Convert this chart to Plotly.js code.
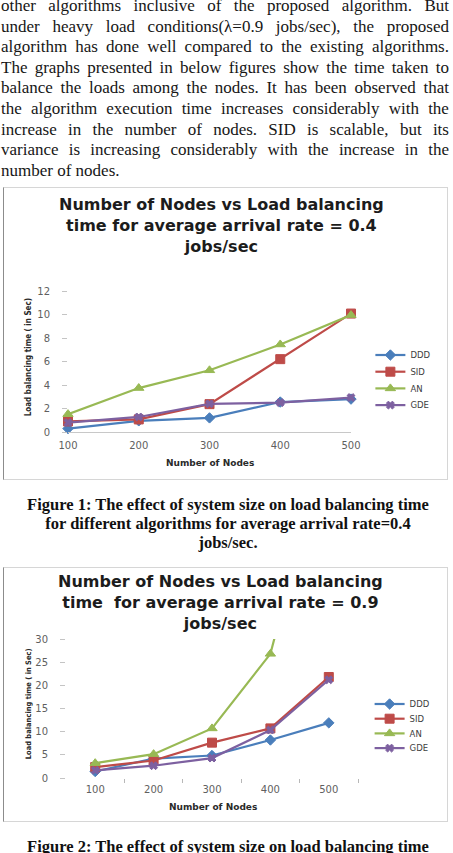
<!DOCTYPE html>
<html>
<head>
<meta charset="utf-8">
<script src="https://cdn.plot.ly/plotly-3.0.1.min.js"></script>
<style>
  html, body { margin: 0; padding: 0; background: #fff; }
  body { position: relative; width: 453px; height: 853px; overflow: hidden; }
  #para { position: absolute; left: 1px; top: -4px; width: 448px;
          font-family: "Liberation Serif", "Times New Roman", serif; font-size: 17px;
          line-height: 20.6px; color: #161616; }
  #para .ln { display: flex; justify-content: space-between; white-space: nowrap; height: 20.6px; }
  #para .ln.last { display: block; }
  .cap { position: absolute; left: 4px; width: 448px; text-align: center;
         font-family: "Liberation Serif", "Times New Roman", serif; font-weight: bold;
         font-size: 16.5px; line-height: 19px; color: #111; white-space: nowrap; }
  .frame { position: absolute; box-sizing: border-box; border: 1px solid #d6d6d6;
           border-left-color: #8c8c8c; pointer-events: none; z-index: 2; }
  .plot { position: absolute; }
</style>
</head>
<body>
<div id="para"></div>

<div class="plot" id="chart04"></div>
<div class="frame" id="frame04"></div>
<div class="cap" id="cap04"></div>

<div class="plot" id="chart09"></div>
<div class="frame" id="frame09"></div>
<div class="cap" id="cap09"></div>

<script>
// ---- data -------------------------------------------------------------
const nodes = [100, 200, 300, 400, 500];
const algorithms = ['DDD', 'SID', 'AN', 'GDE'];

// load balancing time (sec), average arrival rate 0.4 jobs/sec
const ddd04 = [0.29, 0.95, 1.2, 2.55, 2.8];
const sid04 = [0.9, 1.07, 2.37, 6.2, 10.08];
const an04  = [1.52, 3.74, 5.25, 7.45, 9.95];
const gde04 = [0.8, 1.28, 2.4, 2.5, 2.93];

// load balancing time (sec), average arrival rate 0.9 jobs/sec
const ddd09 = [1.4, 4.2, 4.85, 8.2, 11.9];
const sid09 = [2.36, 3.77, 7.63, 10.7, 21.8];
const an09  = [3.2, 5.15, 10.7, 26.8, 75];
const gde09 = [1.65, 2.65, 4.3, 10.35, 21.2];

const yTicks04 = [0, 2, 4, 6, 8, 10, 12];
const yTicks09 = [0, 5, 10, 15, 20, 25, 30];

const title04 = ['Number of Nodes vs Load balancing', 'time for average arrival rate = 0.4', 'jobs/sec'];
const title09 = ['Number of Nodes vs Load balancing', 'time\u00a0 for average arrival rate = 0.9', 'jobs/sec'];
const xTitle = 'Number of Nodes';
const yTitle = 'Load balancing time ( in Sec)';

const paragraphLines = [
  'other algorithms inclusive of the proposed algorithm. But',
  'under heavy load conditions(\u03bb=0.9 jobs/sec), the proposed',
  'algorithm has done well compared to the existing algorithms.',
  'The graphs presented in below figures show the time taken to',
  'balance the loads among the nodes. It has been observed that',
  'the algorithm execution time increases considerably with the',
  'increase in the number of nodes. SID is scalable, but its',
  'variance is increasing considerably with the increase in the',
  'number of nodes.'
];
const caption04 = [
  'Figure 1: The effect of system size on load balancing time',
  'for different algorithms for average arrival rate=0.4',
  'jobs/sec.'
];
const caption09 = ['Figure 2: The effect of system size on load balancing time'];

// ---- text blocks ------------------------------------------------------
const para = document.getElementById('para');
paragraphLines.forEach((line, i) => {
  const d = document.createElement('div');
  d.className = 'ln';
  if (i === paragraphLines.length - 1) {
    d.classList.add('last');
    d.textContent = line;
  } else {
    line.split(' ').forEach(w => {
      const s = document.createElement('span');
      s.textContent = w;
      d.appendChild(s);
    });
  }
  para.appendChild(d);
});

function placeCaption(id, lines, top) {
  const el = document.getElementById(id);
  el.style.top = top + 'px';
  el.innerHTML = '';
  lines.forEach(t => {
    const d = document.createElement('div');
    d.textContent = t;
    el.appendChild(d);
  });
}
placeCaption('cap04', caption04, 495);
placeCaption('cap09', caption09, 837);

// ---- chart styling ----------------------------------------------------
const seriesStyle = [
  { color: '#4A7EBB', symbol: 'diamond', size: 8 },
  { color: '#BE4B48', symbol: 'square', size: 9 },
  { color: '#98B954', symbol: 'triangle-up', size: 9 },
  { color: '#7D60A0', symbol: 'x', size: 7 }
];
const TITLE_FONT = { family: 'DejaVu Sans', size: 16, color: '#1c1c1c', weight: 'bold' };
const AXIS_TITLE_FONT = { family: 'DejaVu Sans', size: 9, color: '#2a2a2a', weight: 'bold' };
const YTITLE_FONT = { family: 'Liberation Sans Narrow, DejaVu Sans Condensed, Liberation Sans, Arial, sans-serif',
                      size: 8, color: '#2a2a2a', weight: 'bold' };
const TICK_FONT = { family: 'DejaVu Sans', size: 10, color: '#5f5f5f' };
const LEGEND_FONT = { family: 'DejaVu Sans', size: 8.5, color: '#404040' };

function makeTraces(series, clip) {
  return series.map((ys, i) => ({
    type: 'scatter',
    mode: 'lines+markers',
    x: nodes,
    y: ys,
    name: algorithms[i],
    cliponaxis: clip,
    line: { color: seriesStyle[i].color, width: 2.2 },
    marker: { symbol: seriesStyle[i].symbol, size: seriesStyle[i].size, color: seriesStyle[i].color,
              line: { color: seriesStyle[i].color, width: 1 } }
  }));
}

function buildChart(cfg) {
  const el = document.getElementById(cfg.id);
  const fr = document.getElementById(cfg.frameId);
  [el, fr].forEach(d => {
    d.style.left = cfg.box.left + 'px';
    d.style.top = cfg.box.top + 'px';
    d.style.width = cfg.box.width + 'px';
    d.style.height = cfg.box.height + 'px';
  });
  const m = cfg.margin;
  const pw = cfg.box.width - m.l - m.r;
  const ph = cfg.box.height - m.t - m.b;
  const px = x => (x - cfg.box.left - m.l) / pw;
  const py = y => (cfg.box.top + m.t + ph - y) / ph;

  const ann = [];
  // three-line chart title, centred on its middle line
  ann.push({
    text: cfg.title.join('<br>'), xref: 'paper', yref: 'paper', x: px(cfg.titleX), y: py(cfg.titleMidY),
    xanchor: 'center', yanchor: 'middle', align: 'center', showarrow: false, font: TITLE_FONT
  });
  ann.push({ text: xTitle, xref: 'paper', yref: 'paper', x: px(cfg.xTitlePos[0]), y: py(cfg.xTitlePos[1]),
             xanchor: 'center', yanchor: 'middle', showarrow: false, font: AXIS_TITLE_FONT });
  ann.push({ text: yTitle, xref: 'paper', yref: 'paper', x: px(cfg.yTitlePos[0]), y: py(cfg.yTitlePos[1]),
             xanchor: 'center', yanchor: 'middle', showarrow: false, textangle: -90,
             font: Object.assign({}, YTITLE_FONT, { size: cfg.yTitleSize }) });

  const layout = {
    width: cfg.box.width, height: cfg.box.height,
    margin: { l: m.l, r: m.r, t: m.t, b: m.b, pad: 0 },
    paper_bgcolor: '#ffffff', plot_bgcolor: '#ffffff',
    showlegend: true,
    legend: { x: px(cfg.legendLeft), y: 1, xanchor: 'left', yanchor: 'top',
              font: LEGEND_FONT, bgcolor: 'rgba(0,0,0,0)', borderwidth: 0, itemwidth: 30 },
    xaxis: Object.assign({
      tickvals: nodes, ticktext: nodes.map(String), tickfont: TICK_FONT,
      showgrid: false, zeroline: false, fixedrange: true
    }, cfg.xaxis),
    yaxis: {
      range: [cfg.yTicks[0], cfg.yTicks[cfg.yTicks.length - 1]], tickvals: cfg.yTicks,
      tickfont: TICK_FONT, ticks: 'outside', ticklen: 5, tickcolor: '#c4c4c4', tickwidth: 1,
      ticklabelstandoff: 10, showline: false, showgrid: false, zeroline: false, fixedrange: true
    },
    annotations: ann
  };
  return Plotly.newPlot(el, makeTraces(cfg.series, cfg.clip), layout,
                        { staticPlot: true, displayModeBar: false })
    .then(() => placeLegendItems(el, cfg.legendFirstY, cfg.legendGap));
}

// tighten the legend rows and set the first row at a page y position
function placeLegendItems(gd, firstY, gap) {
  const sb = gd.querySelector('.legend .scrollbox');
  if (sb) sb.removeAttribute('clip-path');
  const items = gd.querySelectorAll('.legend .traces');
  items.forEach((el, i) => {
    const tr = el.getAttribute('transform') || '';
    const mt = /translate\(\s*([-\d.e]+)[ ,]+([-\d.e]+)\s*\)/.exec(tr);
    if (!mt) return;
    const tog = el.querySelector('.legendlines path, .legendpoints path, .legendtoggle');
    const r = tog.getBoundingClientRect();
    const cur = r.top + r.height / 2;
    const want = firstY + i * gap;
    el.setAttribute('transform', 'translate(' + mt[1] + ',' + (parseFloat(mt[2]) + want - cur) + ')');
  });
}

buildChart({
  id: 'chart04', frameId: 'frame04',
  box: { left: 3, top: 187, width: 445, height: 293 },
  margin: { l: 65, r: 88, t: 104, b: 48 },
  series: [ddd04, sid04, an04, gde04], clip: false,
  yTicks: yTicks04,
  xaxis: { range: [100, 500], ticks: '', showline: true, linecolor: '#c8c8c8', linewidth: 1,
           ticklabelstandoff: 4 },
  title: title04, titleX: 226, titleMidY: 225,
  xTitlePos: [214, 463], yTitlePos: [27, 357], yTitleSize: 8,
  legendLeft: 380, legendFirstY: 355, legendGap: 16.7
});

buildChart({
  id: 'chart09', frameId: 'frame09',
  box: { left: 3, top: 567, width: 445, height: 255 },
  margin: { l: 63, r: 80, t: 72, b: 44 },
  series: [ddd09, sid09, an09, gde09], clip: true,
  yTicks: yTicks09,
  xaxis: { range: [nodes[0] - 50, nodes[nodes.length - 1] + 50], ticks: '', showline: false,
           ticklabelstandoff: 4,
           minor: { tickvals: nodes.map(v => v + 50), ticks: 'outside', ticklen: 4,
                    tickcolor: '#b8b8b8', tickwidth: 1 } },
  title: title09, titleX: 226, titleMidY: 602,
  xTitlePos: [218, 807], yTitlePos: [27, 704], yTitleSize: 7.5,
  legendLeft: 380, legendFirstY: 704, legendGap: 14.7
});
</script>
</body>
</html>
